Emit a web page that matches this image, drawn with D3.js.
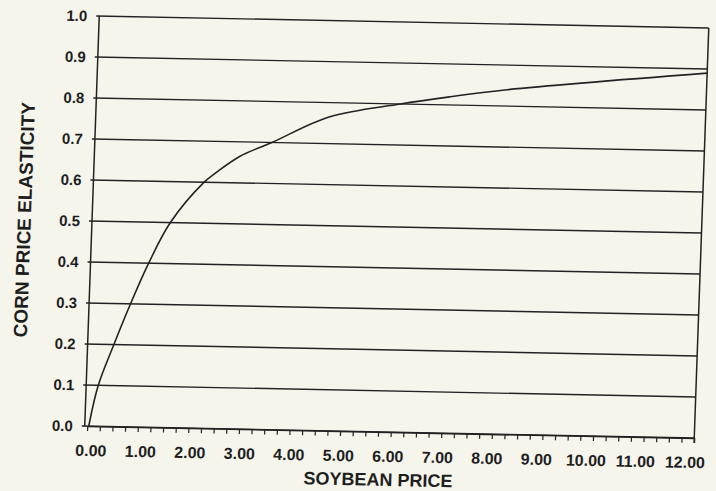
<!DOCTYPE html>
<html>
<head>
<meta charset="utf-8">
<script src="https://cdn.jsdelivr.net/npm/d3@7"></script>
<style>
  html, body { margin: 0; padding: 0; background: #f6f5ec; }
  svg { display: block; }
  text { font-family: "Liberation Sans", Arial, sans-serif; font-weight: bold; fill: #1e1e1e; }
</style>
</head>
<body>
<svg id="chart" width="716" height="491"></svg>
<script>
// soybean price (x) vs corn price elasticity (y)
const prices = [0.03, 0.19, 0.47, 0.77, 1.10, 1.50, 2.14, 2.38, 2.83, 3.45, 4.56, 5.96, 6.94, 8.06, 12.0];
const elasticity = [0.0, 0.1, 0.2, 0.3, 0.4, 0.5, 0.6, 0.625, 0.665, 0.7, 0.765, 0.8, 0.82, 0.84, 0.89];

const xTicks = d3.range(0, 13, 1);
const xMinorTicks = d3.range(0, 12.01, 0.25);
const yTicks = d3.range(0, 1.01, 0.1);

const xTitle = "SOYBEAN PRICE";
const yTitle = "CORN PRICE ELASTICITY";

const width = 609.5;
const height = 410;
const ink = "#222";

const svg = d3.select("#chart");

// the page was scanned a little crooked, so the plot frame is sheared
const g = svg.append("g")
  .attr("transform", "matrix(1,0.0197,-0.0354,1,99.25,16)");

const x = d3.scaleLinear().domain([0, 12]).range([2.5, width]);
const xLabel = x.copy().range([7, 601]);
const y = d3.scaleLinear().domain([0, 1]).range([height, 0]);

// horizontal rules at every tenth, poking a bit left of the axis
g.append("g")
  .selectAll("line")
  .data(yTicks)
  .join("line")
  .attr("x1", -3)
  .attr("x2", width)
  .attr("y1", (d) => y(d))
  .attr("y2", (d) => y(d))
  .attr("stroke", ink)
  .attr("stroke-width", 1.4);

// left and right edges
g.append("line")
  .attr("x1", 0).attr("x2", 0)
  .attr("y1", y(1)).attr("y2", y(0))
  .attr("stroke", ink).attr("stroke-width", 1.5);
g.append("line")
  .attr("x1", width).attr("x2", width)
  .attr("y1", y(1)).attr("y2", y(0) + 5)
  .attr("stroke", ink).attr("stroke-width", 1.5);

// x axis: small ticks every quarter
const xAxis = d3.axisBottom(x)
  .tickValues(xMinorTicks)
  .tickSize(5)
  .tickSizeOuter(0)
  .tickFormat("");

const xAxisG = g.append("g")
  .attr("transform", `translate(0,${height})`)
  .call(xAxis);
xAxisG.select(".domain").attr("stroke", ink).attr("stroke-width", 1.5);
xAxisG.selectAll(".tick line").attr("stroke", ink).attr("stroke-width", 1.2);

g.append("g")
  .selectAll("text")
  .data(xTicks)
  .join("text")
  .attr("x", (d) => xLabel(d))
  .attr("y", height + 30)
  .attr("text-anchor", "middle")
  .style("font-size", "16px")
  .text(d3.format(".2f"));

g.append("g")
  .selectAll("text")
  .data(yTicks)
  .join("text")
  .attr("x", -12)
  .attr("y", (d) => y(d))
  .attr("dy", "0.36em")
  .attr("text-anchor", "end")
  .style("font-size", "15px")
  .text(d3.format(".1f"));

const line = d3.line()
  .x((d, i) => x(prices[i]))
  .y((d) => y(d))
  .curve(d3.curveCatmullRom.alpha(0.5));

g.append("path")
  .datum(elasticity)
  .attr("d", line)
  .attr("fill", "none")
  .attr("stroke", ink)
  .attr("stroke-width", 1.6);

g.append("text")
  .attr("x", 295)
  .attr("y", height + 54)
  .attr("text-anchor", "middle")
  .style("font-size", "18px")
  .text(xTitle);

g.append("text")
  .attr("transform", `translate(-68,${height / 2}) rotate(-90)`)
  .attr("dy", "0.36em")
  .attr("text-anchor", "middle")
  .style("font-size", "19px")
  .text(yTitle);
</script>
</body>
</html>
